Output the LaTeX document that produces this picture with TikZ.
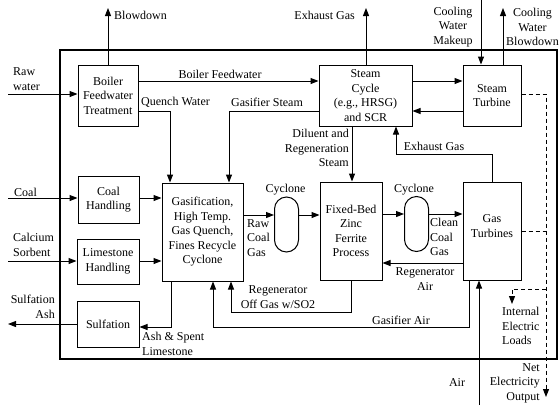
\documentclass[tikz,border=0pt]{standalone}
\usepackage{fontspec}
\setmainfont{Liberation Serif}
\usetikzlibrary{arrows.meta}

\begin{document}
\begin{tikzpicture}[
  x=1pt, y=-1pt,
  font=\fontsize{12}{14.5}\selectfont,
  unit/.style={draw, line width=1pt, align=center, inner sep=1pt},
  cyclone/.style={draw, line width=1pt, rounded corners=12pt,
    minimum width=24pt, minimum height=55pt, inner sep=0pt},
  lbl/.style={align=center, inner sep=0pt},
  flow/.style={-{Triangle[length=8pt,width=6pt]}, line width=1pt},
  elec/.style={dash pattern=on 4pt off 3pt, line width=1pt},
  plantframe/.style={line width=2.2pt}
]
\useasboundingbox (0,0) rectangle (559,405);

% ── Plant boundary ──────────────────────────────────────────────────────
\draw[plantframe] (60,50) rectangle (557,359);

% ── Process units ───────────────────────────────────────────────────────
\node[unit, minimum width=60pt, minimum height=61pt] (boiler) at (108,95.5)
  {Boiler\\Feedwater\\Treatment};
\node[unit, minimum width=61pt, minimum height=47pt] (coalh) at (108.5,199.5)
  {Coal\\Handling};
\node[unit, minimum width=62pt, minimum height=45pt] (limeh) at (108,261.5)
  {Limestone\\Handling};
\node[unit, minimum width=62pt, minimum height=46pt] (sulf) at (108,324)
  {Sulfation};
\node[unit, minimum width=81pt, minimum height=98pt] (gasif) at (202.5,232)
  {Gasification,\\High Temp.\\Gas Quench,\\Fines Recycle\\Cyclone};
\node[unit, minimum width=93pt, minimum height=61pt] (steamc) at (365.5,95.5)
  {Steam\\Cycle\\(e.g., HRSG)\\and SCR};
\node[unit, minimum width=58pt, minimum height=61pt] (steamt) at (492,95.5)
  {Steam\\Turbine};
\node[unit, minimum width=62pt, minimum height=98pt] (fixbed) at (351,231)
  {Fixed-Bed\\Zinc\\Ferrite\\Process};
\node[unit, minimum width=58pt, minimum height=98pt] (gasturb) at (492,231) {};
\node[lbl] (gtlbl) at (492,226) {Gas\\Turbines};
\node[cyclone] (cyc1) at (286.5,224.5) {};
\node[cyclone] (cyc2) at (416.5,224) {};

% ── Free ends of the streams ────────────────────────────────────────────
\coordinate (blowtop) at (108,8);
\coordinate (rawin)   at (8,94);
\coordinate (coalin)  at (8,198);
\coordinate (sorbin)  at (8,261);
\coordinate (ashout)  at (8,324);
\coordinate (exhtop)  at (366,8);
\coordinate (cwmtop)  at (481,0);
\coordinate (cwbtop)  at (503,8);
\coordinate (airin)   at (479,405);
\coordinate (bus)     at (546,94);
\coordinate (netout)  at (546,397);
\coordinate (loadtap) at (546,289);
\coordinate (loadend) at (512,304);

% ── Water and steam ─────────────────────────────────────────────────────
\draw[flow] (boiler.north) -- (blowtop);
\draw[flow] (rawin) -- (boiler.west |- rawin);
\draw[flow] (boiler.east |- 0,81) -- (steamc.west |- 0,81);
\draw[flow] (boiler.east |- 0,111) -| (gasif.north -| 170,0);
\draw[flow] (steamc.west |- 0,111) -| (gasif.north -| 229,0);
\draw[flow] (steamc.north -| exhtop) -- (exhtop);
\draw[flow] (steamc.east |- 0,81) -- (steamt.west |- 0,81);
\draw[flow] (steamt.west |- 0,111) -- (steamc.east |- 0,111);
\draw[flow] (cwmtop) -- (steamt.north -| cwmtop);
\draw[flow] (steamt.north -| cwbtop) -- (cwbtop);
\draw[flow] (steamc.south -| 352,0) -- (fixbed.north -| 352,0);

% ── Solids feed and ash ─────────────────────────────────────────────────
\draw[flow] (coalin) -- (coalh.west |- coalin);
\draw[flow] (coalh.east |- 0,198) -- (gasif.west |- 0,198);
\draw[flow] (sorbin) -- (limeh.west |- sorbin);
\draw[flow] (limeh.east |- 0,261) -- (gasif.west |- 0,261);
\draw[flow] (gasif.south -| 171,0) |- (sulf.east |- 0,327);
\draw[flow] (sulf.west) -- (ashout);

% ── Gas path ────────────────────────────────────────────────────────────
\draw[flow] (gasif.east |- 0,215) -- (cyc1.west |- 0,215);
\draw[flow] (cyc1.east |- 0,215) -- (fixbed.west |- 0,215);
\draw[flow] (fixbed.east |- 0,214) -- (cyc2.west |- 0,214);
\draw[flow] (cyc2.east |- 0,214) -- (gasturb.west |- 0,214);
\draw[flow] (gasturb.west |- 0,263) -- (fixbed.east |- 0,263);
\draw[flow] (gasturb.north) |- (396,154) -- (steamc.south -| 396,0);
\draw[flow] (fixbed.south) |- (231,312) -- (gasif.south -| 231,0);
\draw[flow] (gasturb.south -| 469,0) |- (213,327) -- (gasif.south -| 213,0);
\draw[flow] (airin) -- (gasturb.south -| airin);

% ── Electricity ─────────────────────────────────────────────────────────
\draw[elec, -{Triangle[length=8pt,width=6pt]}]
  (steamt.east |- bus) -- (bus) -- (netout);
\draw[elec] (gasturb.east |- 0,231) -- (546,231);
\draw[elec, -{Triangle[length=8pt,width=6pt]}]
  (loadtap) -| (loadend);

% ── Stream labels ───────────────────────────────────────────────────────
\node[lbl, anchor=west] (blowlbl) at (114,15) {Blowdown};
\node[lbl, anchor=west, align=left] (rawlbl) at (13,79) {Raw\\water};
\node[lbl] (bfwlbl) at (220,74) {Boiler Feedwater};
\node[lbl, anchor=west] (qwlbl) at (141,102) {Quench Water};
\node[lbl, anchor=west] (gslbl) at (231,102) {Gasifier Steam};
\node[lbl, anchor=west] (coallbl) at (14,192) {Coal};
\node[lbl, anchor=west, align=left] (sorblbl) at (13,245) {Calcium\\Sorbent};
\node[lbl, anchor=east, align=right] (ashlbl) at (55,307) {Sulfation\\Ash};
\node[lbl, anchor=west, align=left] (spentlbl) at (142,344)
  {Ash \& Spent\\Limestone};
\node[lbl, anchor=west, align=left] (rcglbl) at (247,238) {Raw\\Coal\\Gas};
\node[lbl] (cyc1lbl) at (285.5,190) {Cyclone};
\node[lbl] (cyc2lbl) at (414,190) {Cyclone};
\node[lbl, anchor=west, align=left] (ccglbl) at (430,237) {Clean\\Coal\\Gas};
\node[lbl] (ralbl) at (425,279) {Regenerator\\Air};
\node[lbl] (exhlbl) at (434,146) {Exhaust Gas};
\node[lbl, anchor=east, align=right] (dillbl) at (349,148)
  {Diluent and\\Regeneration\\Steam};
\node[lbl, anchor=east] (exhtoplbl) at (355,15) {Exhaust Gas};
\node[lbl] (cwmlbl) at (453,27) {Cooling\\Water\\Makeup};
\node[lbl] (cwblbl) at (532.5,27) {Cooling\\Water\\Blowdown};
\node[lbl] (galbl) at (401,320) {Gasifier Air};
\node[lbl] (rogl) at (278,297) {Regenerator\\Off Gas w/SO2};
\node[lbl, anchor=west, align=left] (intlbl) at (502,326)
  {Internal\\Electric\\Loads};
\node[lbl, anchor=east, align=right] (netlbl) at (540,383)
  {Net\\Electricity\\Output};
\node[lbl] (airlbl) at (457,383) {Air};

\end{tikzpicture}
\end{document}
